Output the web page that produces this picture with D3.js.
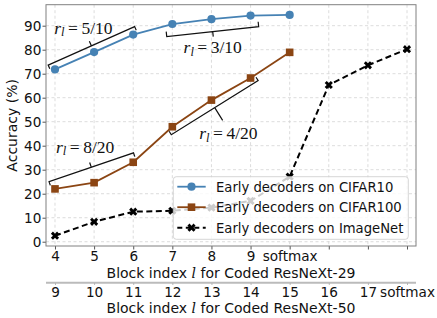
<!DOCTYPE html>
<html>
<head>
<meta charset="utf-8">
<script src="https://cdn.jsdelivr.net/npm/d3@7"></script>
<style>
  body { margin: 0; background: #fff; }
  svg { display: block; font-family: "DejaVu Sans", sans-serif; }
</style>
</head>
<body>
<div id="chart"></div>
<script>
(function(){
	// data
	var topTicks = ["4", "5", "6", "7", "8", "9", "softmax"];
	var bottomTicks = ["9", "10", "11", "12", "13", "14", "15", "16", "17", "softmax"];
	var yTicks = [0, 10, 20, 30, 40, 50, 60, 70, 80, 90];
	var cifar10 = [71.8, 79.0, 86.3, 90.7, 92.7, 94.2, 94.5];
	var cifar100 = [22.0, 24.6, 33.1, 47.9, 59.0, 68.2, 78.9];
	var imagenet = [2.5, 8.3, 12.5, 12.9, 14.2, 17.0, 27.1, 65.3, 73.5, 80.2];
	var seriesNames = ["Early decoders on CIFAR10", "Early decoders on CIFAR100", "Early decoders on ImageNet"];
	var bracketLabels = ["5/10", "3/10", "4/20", "8/20"];

	var W = 437, H = 318;
	var left = 46, right = 416, top = 4.7, bottom = 246;

	var svg = d3.select("#chart").append("svg")
		.attr("width", W)
		.attr("height", H);

	var x = d3.scaleLinear().domain([-0.23, 9.23]).range([left, right]);
	var y = d3.scaleLinear().domain([-1.79, 98.75]).range([bottom, top]);

	// grid
	var grid = svg.append("g")
		.attr("stroke", "#d3d3d3")
		.attr("stroke-width", 0.8)
		.attr("stroke-dasharray", "3,2.5");
	grid.selectAll("line.v")
		.data(bottomTicks)
		.enter().append("line")
		.attr("x1", function(d, i){ return x(i); })
		.attr("x2", function(d, i){ return x(i); })
		.attr("y1", top).attr("y2", bottom);
	grid.selectAll("line.h")
		.data(yTicks)
		.enter().append("line")
		.attr("x1", left).attr("x2", right)
		.attr("y1", function(d){ return y(d); })
		.attr("y2", function(d){ return y(d); });

	// axes
	var yAxis = svg.append("g")
		.attr("transform", "translate(" + left + ",0)")
		.call(d3.axisLeft(y).tickValues(yTicks).tickSize(3.5).tickPadding(1.2));
	var xAxis = svg.append("g")
		.attr("transform", "translate(0," + bottom + ")")
		.call(d3.axisBottom(x)
			.tickValues(d3.range(bottomTicks.length))
			.tickFormat(function(i){ return topTicks[i] || ""; })
			.tickSize(3.5).tickPadding(1.8));
	var x2Axis = svg.append("g")
		.attr("transform", "translate(0,282.7)")
		.call(d3.axisBottom(x)
			.tickValues(d3.range(bottomTicks.length))
			.tickFormat(function(i){ return bottomTicks[i]; })
			.tickSize(2).tickPadding(2.3));

	[yAxis, xAxis, x2Axis].forEach(function(g){
		g.selectAll("text")
			.attr("font-family", "DejaVu Sans")
			.attr("font-size", 13.6)
			.attr("fill", "#111");
		g.select(".domain").remove();
		g.selectAll(".tick line").attr("stroke", "#555");
	});
	x2Axis.selectAll(".tick line").attr("stroke", "#999");
	x2Axis.append("line")
		.attr("x1", left).attr("x2", right)
		.attr("y1", 0).attr("y2", 0)
		.attr("stroke", "#bbb")
		.attr("stroke-width", 2);

	// frame
	svg.append("rect")
		.attr("x", left).attr("y", top)
		.attr("width", right - left).attr("height", bottom - top)
		.attr("fill", "none")
		.attr("stroke", "#808080")
		.attr("stroke-width", 1);

	// titles
	function italicL(t, before, after){
		t.append("tspan").text(before);
		t.append("tspan").attr("font-style", "italic").attr("font-family", "DejaVu Serif").text("l");
		t.append("tspan").text(after);
	}
	var t1 = svg.append("text")
		.attr("x", (left + right) / 2).attr("y", 277.5)
		.attr("text-anchor", "middle")
		.attr("font-size", 14).attr("fill", "#111");
	italicL(t1, "Block index ", " for Coded ResNeXt-29");
	var t2 = svg.append("text")
		.attr("x", (left + right) / 2).attr("y", 313.3)
		.attr("text-anchor", "middle")
		.attr("font-size", 14).attr("fill", "#111");
	italicL(t2, "Block index ", " for Coded ResNeXt-50");
	svg.append("text")
		.attr("transform", "translate(17," + ((top + bottom) / 2) + ") rotate(-90)")
		.attr("text-anchor", "middle")
		.attr("font-size", 14).attr("fill", "#111")
		.text("Accuracy (%)");

	// series
	var series = [
		{values: cifar10, color: "#4682b4", dash: null, marker: "circle"},
		{values: cifar100, color: "#8b4513", dash: null, marker: "square"},
		{values: imagenet, color: "#000", dash: "6,3.5", marker: "x"}
	];
	var line = d3.line()
		.x(function(d, i){ return x(i); })
		.y(function(d){ return y(d); });

	function marker(sel, type, color){
		if (type == "circle"){
			sel.append("circle").attr("r", 4.1).attr("fill", color);
		} else if (type == "square"){
			sel.append("rect").attr("x", -3.8).attr("y", -3.8)
				.attr("width", 7.6).attr("height", 7.6).attr("fill", color);
		} else {
			sel.append("path")
				.attr("d", d3.symbol(d3.symbolCross, 42)())
				.attr("transform", "rotate(45)")
				.attr("fill", color);
		}
	}

	series.forEach(function(s){
		svg.append("path")
			.datum(s.values)
			.attr("d", line)
			.attr("fill", "none")
			.attr("stroke", s.color)
			.attr("stroke-width", s.marker == "x" ? 2 : 1.8)
			.attr("stroke-dasharray", s.dash);
		svg.selectAll(null)
			.data(s.values)
			.enter().append("g")
			.attr("transform", function(d, i){ return "translate(" + x(i) + "," + y(d) + ")"; })
			.each(function(){ marker(d3.select(this), s.marker, s.color); });
	});

	// brackets (side 1 = above the line, -1 = below)
	var brackets = [
		{label: bracketLabels[0], values: cifar10, from: 0, to: 2, side: 1, off: 6.7, ext: 4.5, cap: 4, tick: 5, tx: -8, ty: -18},
		{label: bracketLabels[1], values: cifar10, from: 3, to: 5, side: -1, off: 11.9, ext: 6.9, cap: 5, tick: 5, tx: 0, ty: 16},
		{label: bracketLabels[2], values: cifar100, from: 3, to: 5, side: -1, off: 6.2, ext: 5.1, cap: 4, tick: 15, tx: 13.7, ty: 25.7},
		{label: bracketLabels[3], values: cifar100, from: 0, to: 2, side: 1, off: 8.8, ext: 3.3, cap: 4, tick: 5, tx: -6.1, ty: -20.4}
	];
	brackets.forEach(function(b){
		var ax = x(b.from), ay = y(b.values[b.from]);
		var bx = x(b.to), by = y(b.values[b.to]);
		var len = Math.hypot(bx - ax, by - ay);
		var ux = (bx - ax) / len, uy = (by - ay) / len;
		var nx = uy * b.side, ny = -ux * b.side;
		var p1 = [ax - ux * b.ext + nx * b.off, ay - uy * b.ext + ny * b.off];
		var p2 = [bx + ux * b.ext + nx * b.off, by + uy * b.ext + ny * b.off];
		var m = [(p1[0] + p2[0]) / 2, (p1[1] + p2[1]) / 2];
		var path = d3.path();
		path.moveTo(p1[0] - nx * b.cap, p1[1] - ny * b.cap);
		path.lineTo(p1[0], p1[1]);
		path.lineTo(p2[0], p2[1]);
		path.lineTo(p2[0] - nx * b.cap, p2[1] - ny * b.cap);
		path.moveTo(m[0], m[1]);
		path.lineTo(m[0] + nx * b.tick, m[1] + ny * b.tick);
		svg.append("path")
			.attr("d", path.toString())
			.attr("fill", "none")
			.attr("stroke", "#111")
			.attr("stroke-width", 1.2);

		var t = svg.append("text")
			.attr("x", m[0] + b.tx)
			.attr("y", m[1] + b.ty + 5.8)
			.attr("text-anchor", "middle")
			.attr("font-family", "Liberation Serif")
			.attr("font-size", 17.5)
			.attr("fill", "#111");
		t.append("tspan").attr("font-style", "italic").text("r");
		t.append("tspan").attr("font-style", "italic").attr("font-size", 12.5).attr("dy", 2.6).text("l");
		t.append("tspan").attr("dy", -2.6).attr("dx", 3.5).text("=");
		t.append("tspan").attr("dx", 3.5).text(b.label);
	});

	// legend
	var lg = svg.append("g");
	lg.append("rect")
		.attr("x", 173.3).attr("y", 176.7)
		.attr("width", 235).attr("height", 62.6)
		.attr("rx", 3)
		.attr("fill", "#fff").attr("fill-opacity", 0.8)
		.attr("stroke", "#ccc").attr("stroke-opacity", 0.8);
	series.forEach(function(s, i){
		var ry = 186.7 + i * 20.5;
		var row = lg.append("g");
		row.append("line")
			.attr("x1", 177.3).attr("x2", 205.7)
			.attr("y1", ry).attr("y2", ry)
			.attr("stroke", s.color)
			.attr("stroke-width", s.marker == "x" ? 2 : 1.8)
			.attr("stroke-dasharray", s.dash ? "5,3.5" : null);
		marker(row.append("g").attr("transform", "translate(191.5," + ry + ")"), s.marker, s.color);
		row.append("text")
			.attr("x", 216).attr("y", ry + 4.8)
			.attr("font-size", 13.2)
			.attr("fill", "#111")
			.text(seriesNames[i]);
	});
})();
</script>
</body>
</html>
